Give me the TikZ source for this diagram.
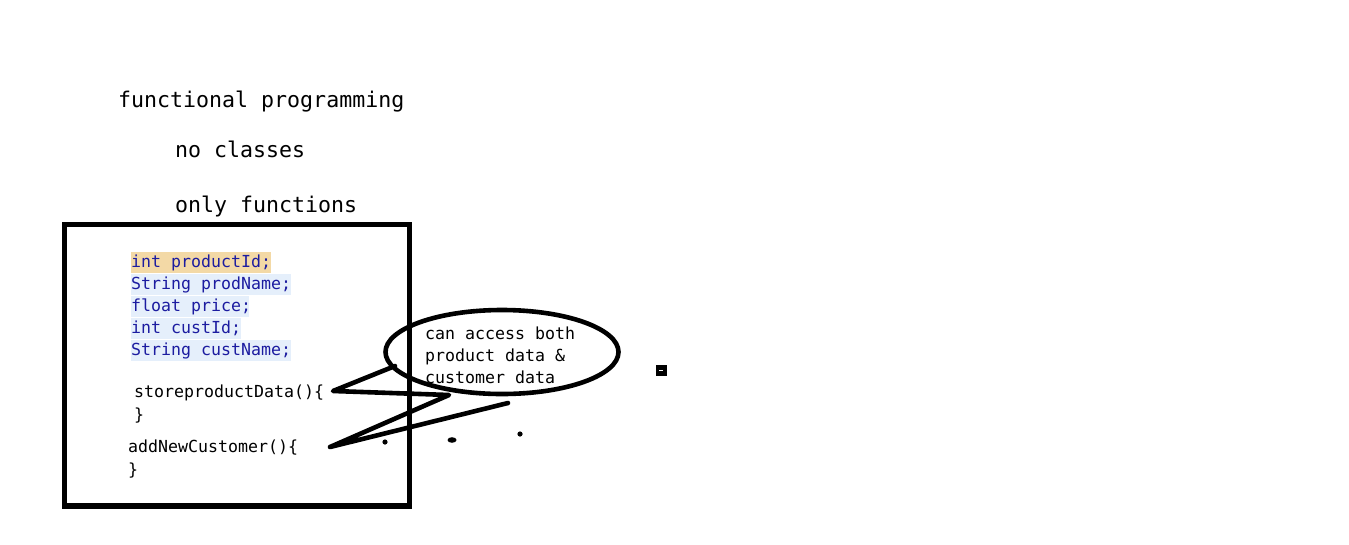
\documentclass[tikz,border=0pt]{standalone}
\usepackage{fontspec}
\setmonofont{DejaVu Sans Mono}
\usetikzlibrary{shapes.geometric}
\definecolor{codeblue}{RGB}{28,28,160}
\definecolor{hltan}{RGB}{243,217,166}
\definecolor{hlblue}{RGB}{229,239,251}
\tikzset{
  big/.style={anchor=base west, inner sep=0pt, font=\ttfamily\fontsize{21.6}{26}\selectfont},
  code/.style={anchor=base west, inner sep=0pt, font=\ttfamily\fontsize{16.6}{22}\selectfont},
  varline/.style={code, text=codeblue},
  thickline/.style={line width=4.6pt, line cap=round, line join=round},
}
\begin{document}
\begin{tikzpicture}[x=1pt,y=-1pt]
\useasboundingbox (0,0) rectangle (1349,544);
\fill[white] (0,0) rectangle (1349,544);
% headings
\node[big] (fp) at (118,107) {functional programming};
\node[big] (nc) at (175,157) {no classes};
\node[big] (of) at (175,212) {only functions};
% box
\draw[line width=5.2pt] (64.5,224.5) rectangle (409.5,506);
% highlights
\fill[hltan] (131,252) rectangle (271,273);
\fill[hlblue] (131,274) rectangle (291,295);
\fill[hlblue] (131,296) rectangle (249,317);
\fill[hlblue] (131,318) rectangle (241,339);
\fill[hlblue] (131,340) rectangle (291,361);
\node[varline] (v1) at (131,267) {int productId;};
\node[varline] (v2) at (131,289) {String prodName;};
\node[varline] (v3) at (131,311) {float price;};
\node[varline] (v4) at (131,333) {int custId;};
\node[varline] (v5) at (131,355) {String custName;};
% functions
\node[code] (f1) at (134,397) {storeproductData()\{};
\node[code] (f1c) at (134,420) {\}};
\node[code] (f2) at (128,452) {addNewCustomer()\{};
\node[code] (f2c) at (128,475) {\}};
% bubble
\node[ellipse, draw, line width=4.6pt, minimum width=233pt, minimum height=84pt, inner sep=0pt] (bub) at (502,352) {};
\node[code] (b1) at (425,339) {can access both};
\node[code] (b2) at (425,361) {product data \&};
\node[code] (b3) at (425,383) {customer data};
% connectors
\coordinate (q1) at (395,366);
\coordinate (p1) at (333,391);
\coordinate (q2) at (449,395);
\coordinate (p2) at (330,447);
\coordinate (q3) at (508,403);
\draw[thickline] (q1) -- (p1) -- (q2) -- (p2) -- (q3);
% dots
\fill (385,442) circle (2.6);
\fill (452,440) ellipse (4.5 and 2.8);
\fill (520,434) circle (2.6);
% small mark
\fill (656,365) rectangle (667,376);
\fill[white] (659,369.5) rectangle (663,371);
\end{tikzpicture}
\end{document}
